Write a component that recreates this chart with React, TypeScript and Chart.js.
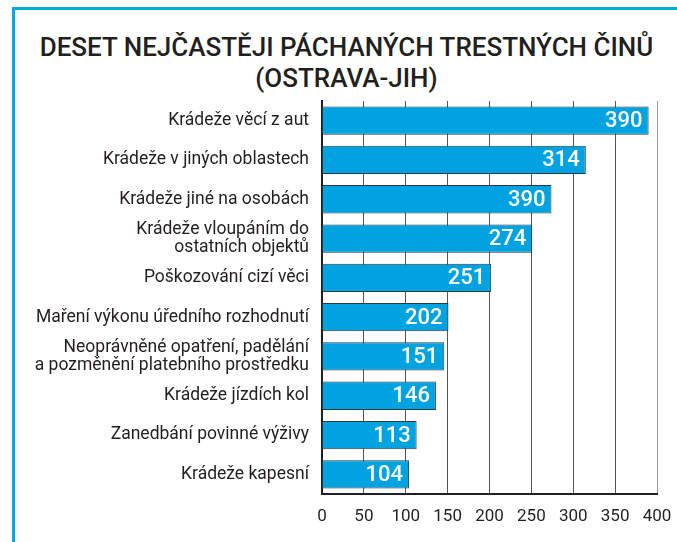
import { useEffect, useRef } from "react";
import { Chart, registerables } from "chart.js";

Chart.register(...registerables);

const titleLines = ["DESET NEJČASTĚJI PÁCHANÝCH TRESTNÝCH ČINŮ", "(OSTRAVA-JIH)"];

const categories: (string | string[])[] = [
  "Krádeže věcí z aut",
  "Krádeže v jiných oblastech",
  "Krádeže jiné na osobách",
  ["Krádeže vloupáním do", "ostatních objektů"],
  "Poškozování cizí věci",
  "Maření výkonu úředního rozhodnutí",
  ["Neoprávněné opatření, padělání", "a pozměnění platebního prostředku"],
  "Krádeže jízdích kol",
  "Zanedbání povinné výživy",
  "Krádeže kapesní",
];

// bar lengths as drawn
const values = [390, 315, 274, 251, 202, 151, 146, 136, 113, 104];
// numbers printed inside the bars
const valueLabels = ["390", "314", "390", "274", "251", "202", "151", "146", "113", "104"];

const xMin = 0;
const xMax = 400;
const xStep = 50;

const FONT = "Roboto, 'Noto Sans', sans-serif";

const valueLabelPlugin = {
  id: "valueLabels",
  afterDatasetsDraw(chart: any) {
    const ctx = chart.ctx;
    const meta = chart.getDatasetMeta(0);
    ctx.save();
    ctx.fillStyle = "#ffffff";
    ctx.font = `500 22px ${FONT}`;
    ctx.textAlign = "right";
    ctx.textBaseline = "middle";
    meta.data.forEach((el: any, i: number) => {
      ctx.fillText(valueLabels[i], el.x - 6, el.y + 1);
    });
    ctx.restore();
  },
};

export default function App() {
  const ref = useRef<HTMLCanvasElement | null>(null);

  useEffect(() => {
    if (!ref.current) return;
    const chart = new Chart(ref.current, {
      type: "bar",
      data: {
        labels: categories,
        datasets: [
          {
            data: values,
            backgroundColor: "#00a3e0",
            borderColor: "#2b3a44",
            borderWidth: 1,
            borderSkipped: "start",
            barPercentage: 0.72,
            categoryPercentage: 1,
          },
        ],
      },
      options: {
        indexAxis: "y",
        animation: false,
        responsive: false,
        maintainAspectRatio: false,
        layout: { padding: { top: 101, right: 20, bottom: 0, left: 0 } },
        plugins: {
          legend: { display: false },
          tooltip: { enabled: false },
          title: { display: false },
        },
        scales: {
          x: {
            min: xMin,
            max: xMax,
            ticks: {
              stepSize: xStep,
              color: "#231f20",
              font: { family: FONT, size: 17 },
              padding: 0,
            },
            grid: {
              color: (c: any) => (c.tick && c.tick.value === xMax ? "#9a9a9a" : "#555555"),
              lineWidth: 1,
              drawTicks: true,
              tickLength: 13,
              tickColor: "rgba(0,0,0,0)",
            },
            border: { display: true, color: "#231f20", width: 2 },
            afterFit: (s: any) => {
              s.height = 48;
            },
          },
          y: {
            ticks: {
              autoSkip: false,
              color: "#231f20",
              font: { family: FONT, size: 17.5, lineHeight: 1.0 },
              padding: 13,
            },
            grid: { display: false, drawTicks: false },
            border: { display: true, color: "#231f20", width: 2 },
            afterFit: (s: any) => {
              s.width = 322;
            },
          },
        },
      },
      plugins: [valueLabelPlugin],
    });
    return () => chart.destroy();
  }, []);

  return (
    <div
      style={{
        position: "fixed",
        left: 0,
        top: 0,
        width: 677,
        height: 542,
        background: "#ffffff",
        overflow: "hidden",
      }}
    >
      <div
        style={{
          position: "absolute",
          left: 12,
          top: 7,
          right: 0,
          bottom: 0,
          borderTop: "3px solid #00acd8",
          borderLeft: "3px solid #00acd8",
        }}
      />
      <div
        style={{
          position: "absolute",
          left: 16,
          width: 661,
          top: 32,
          textAlign: "center",
          fontFamily: FONT,
          fontWeight: 500,
          fontSize: 26,
          lineHeight: "31px",
          color: "#231f20",
        }}
      >
        {titleLines.map((t) => (
          <div key={t}>{t}</div>
        ))}
      </div>
      <canvas
        ref={ref}
        width={677}
        height={542}
        style={{ position: "absolute", left: 0, top: 0, width: 677, height: 542 }}
      />
    </div>
  );
}
